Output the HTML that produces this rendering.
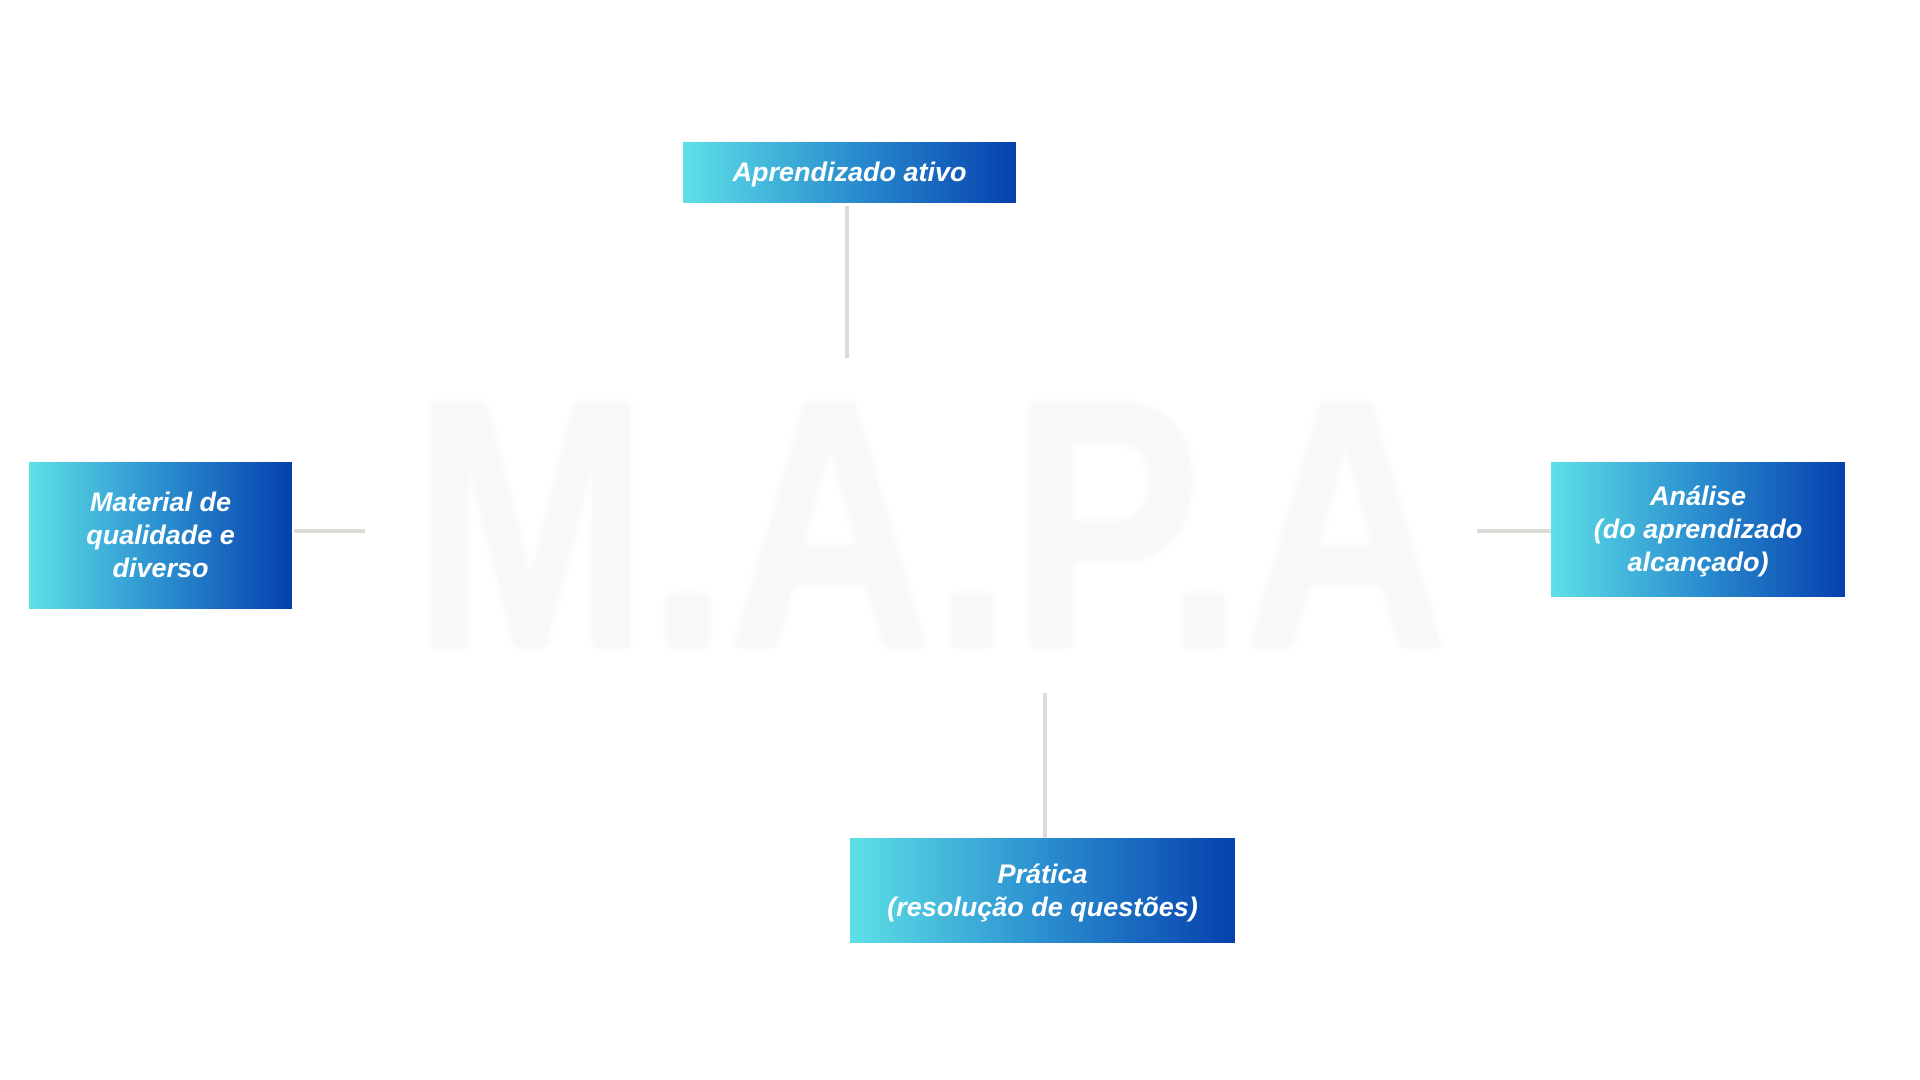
<!DOCTYPE html>
<html><head><meta charset="utf-8"><style>
body{margin:0;width:1920px;height:1080px;background:#fff;position:relative;overflow:hidden;font-family:"Liberation Sans",sans-serif}
.box{position:absolute;display:flex;align-items:center;justify-content:center;text-align:center;color:#fff;font-weight:bold;font-style:italic;font-size:27px;line-height:33px;background:linear-gradient(90deg,#5de0e6 0%,#2b8fd0 50%,#0640ad 100%)}
.l{position:absolute;background:#dcdcd6}
.mapa{position:absolute;left:412px;top:360px;width:1036px;white-space:nowrap;font-size:355px;font-weight:bold;color:#f8f8f8;line-height:330px;text-shadow:0 0 10px rgba(0,0,0,0.04);transform-origin:0 0;transform:scaleX(0.80)}
</style></head><body>
<div class="mapa">M.A.P.A</div>
<div class="box" style="left:683px;top:142px;width:333px;height:61px">Aprendizado ativo</div>
<div class="l" style="left:845px;top:206px;width:4px;height:152px"></div>
<div class="box" style="left:29px;top:462px;width:263px;height:147px">Material de<br>qualidade e<br>diverso</div>
<div class="l" style="left:294px;top:529px;width:71px;height:4px"></div>
<div class="box" style="left:1551px;top:462px;width:294px;height:135px">Análise<br>(do aprendizado<br>alcançado)</div>
<div class="l" style="left:1477px;top:529px;width:74px;height:4px"></div>
<div class="box" style="left:850px;top:838px;width:385px;height:105px">Prática<br>(resolução de questões)</div>
<div class="l" style="left:1043px;top:693px;width:4px;height:145px"></div>
</body></html>
